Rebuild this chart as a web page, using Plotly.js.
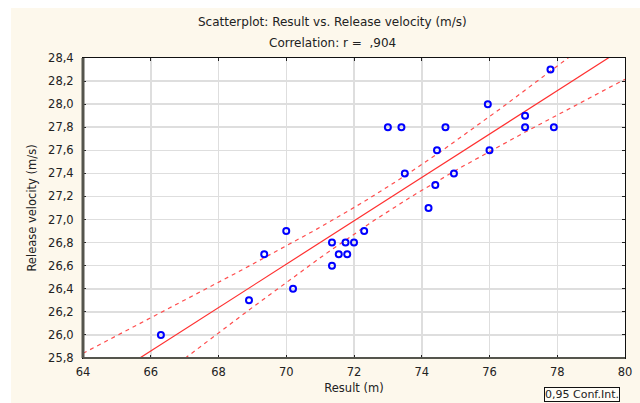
<!DOCTYPE html>
<html>
<head>
<meta charset="utf-8">
<script src="https://cdn.plot.ly/plotly-3.0.1.min.js"></script>
<style>html,body{margin:0;padding:0;background:#ffffff;}#chart{width:640px;height:403px;}</style>
</head>
<body>
<div id="chart"></div>
<script>
// Data
const result = [66.3, 68.9, 69.35, 70.0, 70.2, 71.35, 71.35, 71.55, 71.75, 71.8, 72.0, 72.3,
                73.0, 73.4, 73.5, 74.2, 74.4, 74.45, 74.7, 74.95, 75.95, 76.0, 77.05, 77.05, 77.8, 77.9];
const velocity = [26.0, 26.3, 26.7, 26.9, 26.4, 26.8, 26.6, 26.7, 26.8, 26.7, 26.8, 26.9,
                  27.8, 27.8, 27.4, 27.1, 27.3, 27.6, 27.8, 27.4, 28.0, 27.6, 27.9, 27.8, 28.3, 27.8];
const xTicks = [64, 66, 68, 70, 72, 74, 76, 78, 80];
const yTicks = [25.8, 26.0, 26.2, 26.4, 26.6, 26.8, 27.0, 27.2, 27.4, 27.6, 27.8, 28.0, 28.2, 28.4];
const xRange = [64, 80];
const yRange = [25.8, 28.4];
const tCrit = 2.0639; // t(0.975, df = 24)

// Linear regression and 95% confidence band of the mean
const n = result.length;
const mx = result.reduce((a, b) => a + b, 0) / n;
const my = velocity.reduce((a, b) => a + b, 0) / n;
let sxx = 0, sxy = 0;
for (let i = 0; i < n; i++) { sxx += (result[i] - mx) ** 2; sxy += (result[i] - mx) * (velocity[i] - my); }
const slope = sxy / sxx, icpt = my - slope * mx;
let sse = 0;
for (let i = 0; i < n; i++) sse += (velocity[i] - (icpt + slope * result[i])) ** 2;
const s = Math.sqrt(sse / (n - 2));
const gx = [], fit = [], lo = [], hi = [];
for (let k = 0; k <= 160; k++) {
  const x = xRange[0] + (xRange[1] - xRange[0]) * k / 160;
  const yh = icpt + slope * x;
  const h = tCrit * s * Math.sqrt(1 / n + (x - mx) ** 2 / sxx);
  gx.push(x); fit.push(yh); lo.push(yh - h); hi.push(yh + h);
}

const FONT = "DejaVu Sans, Verdana, sans-serif";
const traces = [
  {x: gx, y: hi, mode: 'lines', line: {color: '#ff4d4d', width: 1.2, dash: '4px,4px'}, hoverinfo: 'skip', showlegend: false},
  {x: gx, y: lo, mode: 'lines', line: {color: '#ff4d4d', width: 1.2, dash: '4px,4px'}, hoverinfo: 'skip', showlegend: false},
  {x: gx, y: fit, mode: 'lines', line: {color: '#ff3030', width: 1.2}, hoverinfo: 'skip', showlegend: false},
  {x: result, y: velocity, mode: 'markers', type: 'scatter',
   marker: {symbol: 'circle-open', size: 6, color: '#0000ff', line: {width: 2, color: '#0000ff'}}, showlegend: false}
];

const L = 83, R = 625, T = 58, B = 358, W = 640, H = 403;
const px = v => (v - L) / (R - L);
const py = v => (B - v) / (B - T);

const axisCommon = {
  showgrid: true, gridcolor: '#dedede', gridwidth: 1.5, zeroline: false,
  ticks: 'inside', ticklen: 3, tickwidth: 1, tickcolor: '#222',
  showline: true, linecolor: '#111', linewidth: 1, mirror: 'ticks',
  tickfont: {family: FONT, size: 11.5, color: '#222'}
};

const layout = {
  width: W, height: H,
  margin: {l: L, r: W - R, t: T, b: H - B, pad: 0},
  paper_bgcolor: '#fdf8ec', plot_bgcolor: '#ffffff',
  separators: ', ',
  showlegend: false,
  xaxis: Object.assign({}, axisCommon, {
    range: xRange, tickvals: xTicks, tickformat: 'd', ticklabelstandoff: 3,
    title: {text: 'Result (m)', font: {family: FONT, size: 11.5, color: '#222'}, standoff: 6}
  }),
  yaxis: Object.assign({}, axisCommon, {
    range: yRange, tickvals: yTicks, tickformat: '.1f', ticklabelstandoff: 6,
    title: {text: 'Release velocity (m/s)', font: {family: FONT, size: 11.5, color: '#222'}, standoff: 9}
  }),
  shapes: [
    {type: 'rect', xref: 'paper', yref: 'paper', x0: px(0), x1: px(W), y0: py(0), y1: py(8), fillcolor: '#ffffff', line: {width: 0}, layer: 'below'},
    {type: 'rect', xref: 'paper', yref: 'paper', x0: px(0), x1: px(11), y0: py(H), y1: py(0), fillcolor: '#ffffff', line: {width: 0}, layer: 'below'},
    {type: 'line', xref: 'paper', yref: 'paper', x0: 0, x1: 0, y0: 0, y1: 1, line: {color: '#55554d', width: 3}},
    {type: 'line', xref: 'paper', yref: 'paper', x0: 0, x1: 1, y0: 0, y1: 0, line: {color: '#55554d', width: 2}}
  ],
  annotations: [
    {text: 'Scatterplot: Result vs. Release velocity (m/s)', xref: 'paper', yref: 'paper', x: px(332), y: py(22),
     xanchor: 'center', yanchor: 'middle', showarrow: false, font: {family: FONT, size: 12, color: '#222'}},
    {text: 'Correlation: r =  ,904', xref: 'paper', yref: 'paper', x: px(332), y: py(43),
     xanchor: 'center', yanchor: 'middle', showarrow: false, font: {family: FONT, size: 12, color: '#222'}},
    {text: '0,95 Conf.Int.', xref: 'paper', yref: 'paper', x: px(544), y: py(402),
     xanchor: 'left', yanchor: 'bottom', showarrow: false, align: 'left',
     bordercolor: '#111', borderwidth: 1, borderpad: 0, bgcolor: '#fffdf6',
     font: {family: FONT, size: 11, color: '#222'}}
  ]
};

Plotly.newPlot('chart', traces, layout, {displayModeBar: false, staticPlot: true});
</script>
</body>
</html>
